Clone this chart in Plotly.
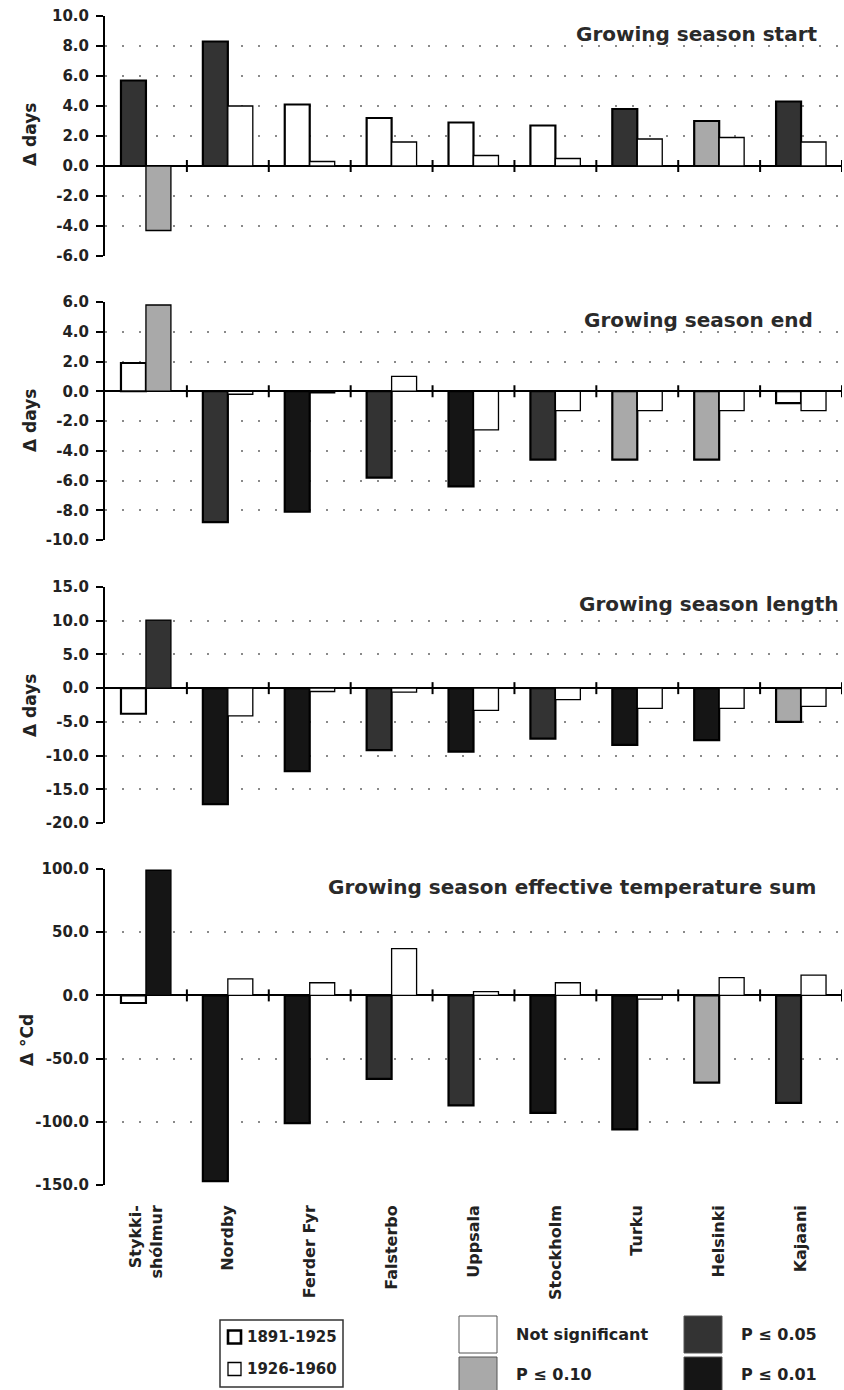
import plotly.graph_objects as go
from plotly.subplots import make_subplots

# ---------------- data ----------------
stations = ["Stykkishólmur", "Nordby", "Ferder Fyr", "Falsterbo", "Uppsala",
            "Stockholm", "Turku", "Helsinki", "Kajaani"]
station_labels = ["Stykki-<br>shólmur", "Nordby", "Ferder Fyr", "Falsterbo", "Uppsala",
                  "Stockholm", "Turku", "Helsinki", "Kajaani"]

periods = ["1891-1925", "1926-1960"]

start_1891 = [5.7, 8.3, 4.1, 3.2, 2.9, 2.7, 3.8, 3.0, 4.3]
start_1891_sig = ["p05", "p05", "ns", "ns", "ns", "ns", "p05", "p10", "p05"]
start_1926 = [-4.3, 4.0, 0.3, 1.6, 0.7, 0.5, 1.8, 1.9, 1.6]
start_1926_sig = ["p10", "ns", "ns", "ns", "ns", "ns", "ns", "ns", "ns"]

end_1891 = [1.9, -8.8, -8.1, -5.8, -6.4, -4.6, -4.6, -4.6, -0.8]
end_1891_sig = ["ns", "p05", "p01", "p05", "p01", "p05", "p10", "p10", "ns"]
end_1926 = [5.8, -0.2, -0.1, 1.0, -2.6, -1.3, -1.3, -1.3, -1.3]
end_1926_sig = ["p10", "ns", "ns", "ns", "ns", "ns", "ns", "ns", "ns"]

length_1891 = [-3.8, -17.2, -12.3, -9.2, -9.4, -7.5, -8.4, -7.7, -5.0]
length_1891_sig = ["ns", "p01", "p01", "p05", "p01", "p05", "p01", "p01", "p10"]
length_1926 = [10.1, -4.1, -0.5, -0.6, -3.3, -1.7, -3.0, -3.0, -2.7]
length_1926_sig = ["p05", "ns", "ns", "ns", "ns", "ns", "ns", "ns", "ns"]

temp_1891 = [-6, -147, -101, -66, -87, -93, -106, -69, -85]
temp_1891_sig = ["ns", "p01", "p01", "p05", "p05", "p01", "p01", "p10", "p05"]
temp_1926 = [99, 13, 10, 37, 3, 10, -3, 14, 16]
temp_1926_sig = ["p01", "ns", "ns", "ns", "ns", "ns", "ns", "ns", "ns"]

panel_titles = ["Growing season start", "Growing season end",
                "Growing season length", "Growing season effective temperature sum"]
y_titles = ["Δ days", "Δ days", "Δ days", "Δ °Cd"]

yticks_start = [-6, -4, -2, 0, 2, 4, 6, 8, 10]
yticks_end = [-10, -8, -6, -4, -2, 0, 2, 4, 6]
yticks_length = [-20, -15, -10, -5, 0, 5, 10, 15]
yticks_temp = [-150, -100, -50, 0, 50, 100]

sig_levels = ["ns", "p10", "p05", "p01"]
sig_labels = ["Not significant", "P ≤ 0.10", "P ≤ 0.05", "P ≤ 0.01"]

# ---------------- styling ----------------
sig_colors = {"ns": "#ffffff", "p10": "#a9a9a9", "p05": "#333333", "p01": "#151515"}
W, H = 844, 1390
ML, MR = 105, 2
PW = W - ML - MR
FONT = "DejaVu Sans"
TXT = "#222222"

def px(xp):
    return (xp - ML) / PW

def py(yp):
    return 1 - yp / H

panel_pix = [(16, 256), (302, 540), (587, 823), (869, 1185)]
title_pos = [(820, 34), (815, 320), (840, 604), (818, 887)]
ytitle_pos = [(30, 135), (30, 421), (30, 706), (27, 1040)]

panels = [
    (start_1891, start_1891_sig, start_1926, start_1926_sig, yticks_start),
    (end_1891, end_1891_sig, end_1926, end_1926_sig, yticks_end),
    (length_1891, length_1891_sig, length_1926, length_1926_sig, yticks_length),
    (temp_1891, temp_1891_sig, temp_1926, temp_1926_sig, yticks_temp),
]

fig = make_subplots(rows=4, cols=1)

shapes = []
annotations = []
for i, (v1, s1, v2, s2, yt) in enumerate(panels):
    r = i + 1
    fig.add_trace(go.Bar(x=stations, y=v1, name=periods[0],
                         marker=dict(color=[sig_colors[s] for s in s1],
                                     line=dict(color="black", width=2.2)),
                         showlegend=False), row=r, col=1)
    fig.add_trace(go.Bar(x=stations, y=v2, name=periods[1],
                         marker=dict(color=[sig_colors[s] for s in s2],
                                     line=dict(color="black", width=1.3)),
                         showlegend=False), row=r, col=1)
    top, bot = panel_pix[i]
    sfx = "" if r == 1 else str(r)
    fig.layout[f"yaxis{sfx}"].update(
        domain=[py(bot), py(top)], range=[yt[0], yt[-1]],
        tickvals=yt, ticktext=[f"{v:.1f}" for v in yt],
        showline=True, linecolor="black", linewidth=2,
        ticks="outside", ticklen=7, tickwidth=2, tickcolor="black",
        ticklabelstandoff=4,
        showgrid=True, gridcolor="#8a8a8a", gridwidth=2, griddash="2px,15px",
        zeroline=True, zerolinecolor="black", zerolinewidth=2,
        tickfont=dict(family=FONT, size=15, color=TXT, weight="bold"),
        automargin=False, fixedrange=True)
    fig.layout[f"xaxis{sfx}"].update(
        domain=[0, 1], range=[-0.5, len(stations) - 0.5], type="category",
        showline=False, showgrid=False, zeroline=False, ticks="",
        tickvals=stations, ticktext=station_labels,
        showticklabels=(r == 4), tickangle=-90, ticklabelstandoff=16,
        tickfont=dict(family=FONT, size=16, color=TXT, weight="bold"),
        automargin=False, fixedrange=True)
    # tick marks crossing the zero line at category boundaries
    for k in range(len(stations)):
        shapes.append(dict(type="line", xref=f"x{sfx}", yref=f"y{sfx}",
                           x0=k + 0.5, x1=k + 0.5, ysizemode="pixel", yanchor=0,
                           y0=-6, y1=6, line=dict(color="black", width=2)))
    tx, ty = title_pos[i]
    annotations.append(dict(text=panel_titles[i], xref="paper", yref="paper",
                            x=px(tx), y=py(ty), xanchor="right", yanchor="middle",
                            showarrow=False,
                            font=dict(family=FONT, size=20, color="#2a2a2a", weight="bold")))
    ax, ay = ytitle_pos[i]
    annotations.append(dict(text=y_titles[i], xref="paper", yref="paper",
                            x=px(ax), y=py(ay), xanchor="center", yanchor="middle",
                            textangle=-90, showarrow=False,
                            font=dict(family=FONT, size=17, color=TXT, weight="bold")))

# ---------------- legends (drawn) ----------------
# period legend box
shapes.append(dict(type="rect", xref="paper", yref="paper",
                   x0=px(220), x1=px(343), y0=py(1387), y1=py(1320),
                   line=dict(color="#333", width=1.5), fillcolor="white"))
period_rows = [1337, 1369]
period_widths = [2.6, 1.3]
for j, lab in enumerate(periods):
    yc = period_rows[j]
    shapes.append(dict(type="rect", xref="paper", yref="paper",
                       x0=px(228), x1=px(241), y0=py(yc + 6.5), y1=py(yc - 6.5),
                       line=dict(color="black", width=period_widths[j]), fillcolor="white"))
    annotations.append(dict(text=lab, xref="paper", yref="paper", x=px(245), y=py(yc),
                            xanchor="left", yanchor="middle", showarrow=False,
                            font=dict(family=FONT, size=15, color=TXT, weight="bold")))

# significance legend
sw_cols = [459, 459, 684, 684]
sw_rows = [(1316, 1353), (1357, 1394), (1316, 1353), (1357, 1394)]
txt_rows = [1334, 1374, 1334, 1374]
for j, lev in enumerate(sig_levels):
    x0 = sw_cols[j]
    y0, y1 = sw_rows[j]
    shapes.append(dict(type="rect", xref="paper", yref="paper",
                       x0=px(x0), x1=px(x0 + 38), y0=py(y1), y1=py(y0),
                       line=dict(color="#555", width=1), fillcolor=sig_colors[lev]))
    annotations.append(dict(text=sig_labels[j], xref="paper", yref="paper",
                            x=px(x0 + 55), y=py(txt_rows[j]),
                            xanchor="left", yanchor="middle", showarrow=False,
                            font=dict(family=FONT, size=16, color=TXT, weight="bold")))

fig.update_layout(
    width=W, height=H,
    margin=dict(l=ML, r=MR, t=0, b=0, pad=0),
    barmode="group", bargap=0.39, bargroupgap=0.0,
    plot_bgcolor="white", paper_bgcolor="white",
    font=dict(family=FONT, color=TXT),
    shapes=shapes, annotations=annotations,
    showlegend=False,
)

fig.write_html("out.html", config={"displayModeBar": False})
